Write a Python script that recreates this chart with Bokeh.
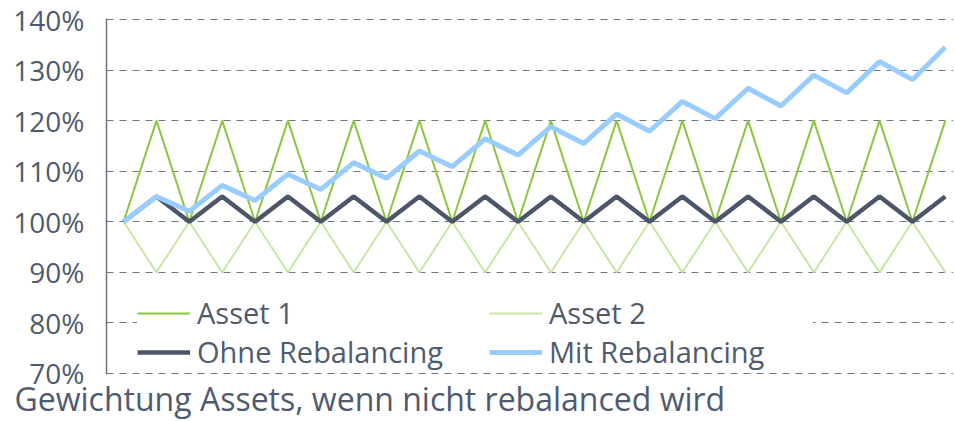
from bokeh.plotting import figure
from bokeh.models import Legend, LegendItem, Title, Range1d, FixedTicker, PrintfTickFormatter
from bokeh.embed import file_html
from bokeh.resources import INLINE

# ---- data (percent) ----
periods = [0, 1, 2, 3, 4, 5, 6, 7, 8, 9, 10, 11, 12, 13, 14, 15, 16, 17, 18, 19, 20, 21, 22, 23, 24, 25]
asset1 = [100, 120, 100, 120, 100, 120, 100, 120, 100, 120, 100, 120, 100,
          120, 100, 120, 100, 120, 100, 120, 100, 120, 100, 120, 100, 120]
asset2 = [100, 90, 100, 90, 100, 90, 100, 90, 100, 90, 100, 90, 100,
          90, 100, 90, 100, 90, 100, 90, 100, 90, 100, 90, 100, 90]
ohne = [100, 105, 100, 105, 100, 105, 100, 105, 100, 105, 100, 105, 100,
        105, 100, 105, 100, 105, 100, 105, 100, 105, 100, 105, 100, 105]
mit = [100.0, 105.0, 102.1, 107.2, 104.2, 109.4, 106.4, 111.7, 108.6, 114.0,
       110.9, 116.4, 113.2, 118.8, 115.5, 121.3, 117.9, 123.8, 120.4, 126.4,
       122.9, 129.0, 125.5, 131.7, 128.1, 134.5]
y_ticks = [70, 80, 90, 100, 110, 120, 130, 140]
series_names = ["Asset 1", "Asset 2", "Ohne Rebalancing", "Mit Rebalancing"]
title_text = "Gewichtung Assets, wenn nicht rebalanced wird"

FONT = "Open Sans"
TXT = "#4f5b6d"
GRID = "#6f7787"

p = figure(width=953, height=419, output_backend="svg", toolbar_location=None,
           x_range=Range1d(-0.52, 25.25), y_range=Range1d(69.8, 140.2),
           min_border_left=106, min_border_right=0, min_border_top=18, min_border_bottom=40)
p.title = None
p.outline_line_color = None
p.background_fill_color = "white"
p.border_fill_color = "white"

p.xaxis.visible = False
p.xgrid.visible = False

yax = p.yaxis[0]
yax.ticker = FixedTicker(ticks=y_ticks)
yax.formatter = PrintfTickFormatter(format="%d%%")
yax.axis_line_color = "#6b7486"
yax.axis_line_width = 1.5
yax.major_tick_line_color = "#6b7486"
yax.major_tick_out = 0
yax.major_tick_in = 0
yax.minor_tick_line_color = None
yax.major_label_standoff = 22
yax.major_label_text_font = FONT
yax.major_label_text_font_size = "28px"
yax.major_label_text_color = TXT

p.ygrid.ticker = FixedTicker(ticks=y_ticks)
p.ygrid.grid_line_color = GRID
p.ygrid.grid_line_dash = "7 6"
p.ygrid.grid_line_width = 1

r1 = p.line(periods, asset1, line_color="#8cc63e", line_width=2)
r2 = p.line(periods, asset2, line_color="#c8e6a8", line_width=2)
r3 = p.line(periods, ohne, line_color="#4b5768", line_width=4.5)
r4 = p.line(periods, mit, line_color="#99ccff", line_width=5)

def mk_legend(items, loc, lw):
    lg = Legend(items=items, location=loc, orientation="vertical",
                background_fill_color="white", background_fill_alpha=1.0,
                border_line_color=None, padding=8, spacing=-5, margin=0,
                glyph_width=53, glyph_height=30, label_height=30, label_width=lw,
                label_standoff=7, label_text_font=FONT, label_text_font_size="29px",
                label_text_color=TXT)
    return lg

leg1 = mk_legend([LegendItem(label=series_names[0], renderers=[r1]),
                  LegendItem(label=series_names[2], renderers=[r3])], (31, 3), 300)
leg2 = mk_legend([LegendItem(label=series_names[1], renderers=[r2]),
                  LegendItem(label=series_names[3], renderers=[r4])], (383, 3), 264)
p.add_layout(leg1, "center")
p.add_layout(leg2, "center")

p.add_layout(Title(text=title_text, align="left", offset=-92, standoff=0,
                   text_font=FONT, text_font_size="32px", text_color=TXT,
                   text_font_style="normal"), "below")

open("out.html", "w").write(file_html(p, INLINE))
